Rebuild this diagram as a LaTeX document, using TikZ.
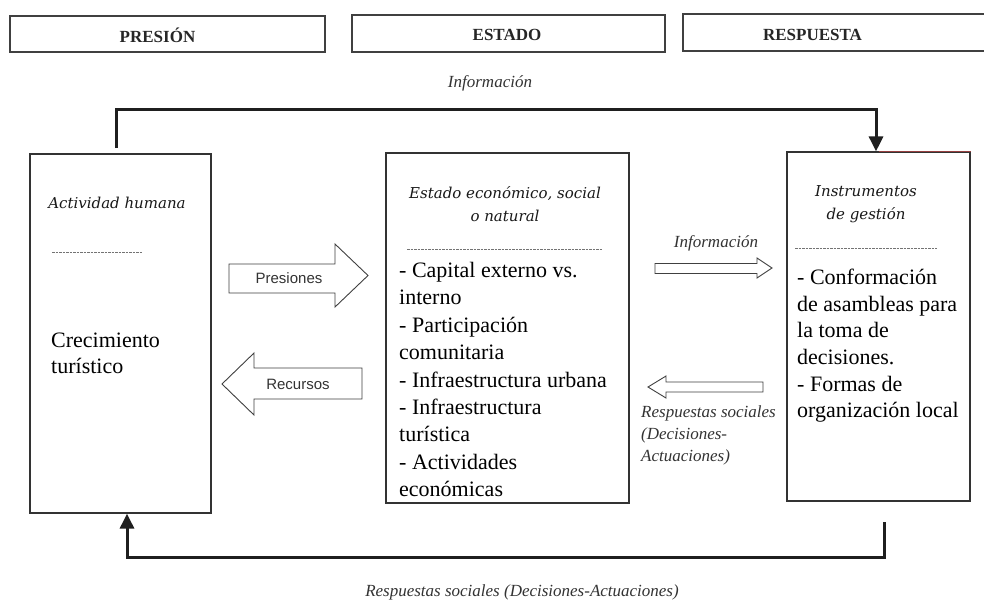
\documentclass[tikz,border=0pt]{standalone}
\usepackage{fontspec}
\setmainfont{Liberation Serif}
\newfontfamily\dejaviti{DejaVu Serif}
\newfontfamily\lsans{Liberation Sans}
\usetikzlibrary{arrows.meta}
\tikzset{
  hdr/.style={draw=black!75, line width=1.3pt, inner sep=0pt},
  hdrtxt/.style={font=\fontsize{17}{20}\selectfont\bfseries, text=black!85, inner sep=0pt},
  bigbox/.style={draw=black!80, line width=1.2pt, inner sep=0pt},
  ititle/.style={font=\dejaviti\itshape\fontsize{15}{23}\selectfont, align=center, text=black!90, inner sep=0pt},
  bodytxt/.style={align=left, inner sep=0pt, anchor=north west, text=black},
  lbl/.style={font=\itshape\fontsize{17}{22}\selectfont, text=black!80, inner sep=0pt},
  arrtxt/.style={font=\lsans\fontsize{15}{16}\selectfont, text=black!80, inner sep=0pt},
  blockarrow/.style={draw=black!75, line width=0.9pt, fill=white, line join=miter},
  fb/.style={line width=3pt, draw=black!88, -{Triangle[length=15pt,width=14pt]}},
  sepline/.style={draw=black!55, line width=0.8pt, dash pattern=on 2.5pt off 1pt},
}
\begin{document}
\begin{tikzpicture}[x=1pt,y=-1pt]
\useasboundingbox[fill=white] (0,0) rectangle (984,606);

% header boxes
\node[hdr, minimum width=315pt, minimum height=36pt] (hpres) at (167.5,34) {};
\node[hdrtxt] (tpres) at (157.5,35) {PRESIÓN};
\node[hdr, minimum width=313pt, minimum height=37pt] (hest) at (508.5,33.5) {};
\node[hdrtxt] (test) at (507,35) {ESTADO};
\node[hdr, minimum width=306pt, minimum height=37pt] (hresp) at (836,32.5) {};
\node[hdrtxt] (tresp) at (812.5,35) {RESPUESTA};

% main boxes
\node[bigbox, minimum width=181pt, minimum height=359pt] (lbox) at (120.5,333.5) {};
\node[bigbox, minimum width=243pt, minimum height=350pt] (mbox) at (507.5,328) {};
\node[bigbox, minimum width=183pt, minimum height=349pt] (rbox) at (878.5,326.5) {};
\draw[draw=red!45!black!75, line width=1.2pt] (rbox.north) -- (rbox.north east);

% titles
\node[ititle] (lt) at (117,203) {Actividad humana};
\node[ititle] (mt) at (505,204) {Estado económico, social\\o natural};
\node[ititle] (rt) at (866,204) {Instrumentos\\de gestión};

% separators
\draw[sepline] (52,252) -- (143,252);
\draw[sepline] (407,249) -- (603,249);
\draw[sepline] (795,248) -- (937,248);

% body texts
\node[bodytxt, font=\fontsize{22}{26}\selectfont] (lbody) at (51,333) {Crecimiento\\turístico};
\node[bodytxt, font=\fontsize{22}{27.4}\selectfont] (mbody) at (399,262) {- Capital externo vs.\\interno\\- Participación\\comunitaria\\- Infraestructura urbana\\- Infraestructura\\turística\\- Actividades\\económicas};
\node[bodytxt, font=\fontsize{22}{26.6}\selectfont] (rbody) at (797,269) {- Conformación\\de asambleas para\\la toma de\\decisiones.\\- Formas de\\organización local};

% block arrows
\draw[blockarrow] (229,264) -- (335,264) -- (335,244) -- (368,275.5) -- (335,307) -- (335,293) -- (229,293) -- cycle;
\node[arrtxt] (pres) at (289,278) {Presiones};
\draw[blockarrow] (222,384) -- (254,353) -- (254,368) -- (362,368) -- (362,399) -- (254,399) -- (254,415) -- cycle;
\node[arrtxt] (recu) at (298,384) {Recursos};
\draw[blockarrow] (655,263.5) -- (757,263.5) -- (757,258) -- (772,268) -- (757,278) -- (757,273.5) -- (655,273.5) -- cycle;
\node[lbl] (info2) at (716,243) {Información};
\draw[blockarrow] (648,387) -- (666,376) -- (666,382) -- (763,382) -- (763,392) -- (666,392) -- (666,398) -- cycle;
\node[lbl, align=left, anchor=west] (resp2) at (641,435) {Respuestas sociales\\(Decisiones-\\Actuaciones)};

% feedback loops
\coordinate (topL) at (116,148);
\coordinate (topR) at (876,109);
\draw[fb] (topL) |- (topR) -- (topR |- rbox.north);
\node[lbl] (info1) at (490,83) {Información};

\coordinate (botR) at (884,522);
\coordinate (botL) at (127,557);
\draw[fb] (botR) |- (botL) -- (botL |- lbox.south);
\node[lbl] (resp1) at (522,592) {Respuestas sociales (Decisiones-Actuaciones)};
\end{tikzpicture}
\end{document}
